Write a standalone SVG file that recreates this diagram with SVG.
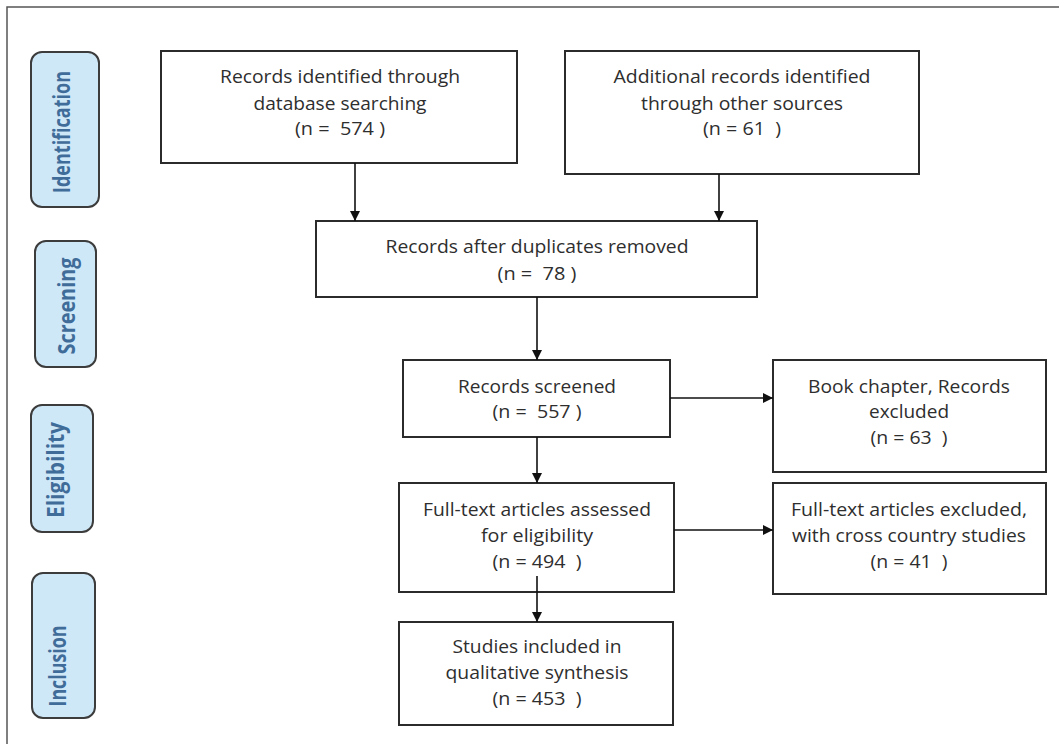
<svg xmlns="http://www.w3.org/2000/svg" width="1059" height="744" viewBox="0 0 1059 744">
  <style>
    .frame { fill: none; stroke: #555; stroke-width: 1.5; }
    .box { fill: #fff; stroke: #2b2b2b; stroke-width: 2; }
    .stage { fill: #cfe8f8; stroke: #3c3c3c; stroke-width: 2; }
    .stage-label { font-family: "Open Sans", "Liberation Sans", sans-serif; font-weight: 700; font-size: 24px; fill: #3f6c98; text-anchor: middle; }
    .label { font-family: "Open Sans", "Liberation Sans", sans-serif; font-size: 17.5px; fill: #2e2e2e; text-anchor: middle; white-space: pre; }
    .link { fill: none; stroke: #111; stroke-width: 1.6; marker-end: url(#head); }
  </style>
  <defs>
    <marker id="head" markerUnits="userSpaceOnUse" markerWidth="10" markerHeight="10" viewBox="0 0 10 10" refX="10" refY="5" orient="auto">
      <path d="M0,0 L10,5 L0,10 z" fill="#111"/>
    </marker>
  </defs>

  <rect width="1059" height="744" fill="#fff"/>
  <path class="frame" d="M7,744 V7 H1059"/>

  <!-- stage labels -->
  <g id="stage-identification">
    <rect class="stage" x="31" y="52" width="68" height="155" rx="11"/>
    <text class="stage-label" transform="translate(70,132) rotate(-90)" textLength="122" lengthAdjust="spacingAndGlyphs">Identification</text>
  </g>
  <g id="stage-screening">
    <rect class="stage" x="35" y="241" width="61" height="126" rx="11"/>
    <text class="stage-label" transform="translate(75,306) rotate(-90)" textLength="97" lengthAdjust="spacingAndGlyphs">Screening</text>
  </g>
  <g id="stage-eligibility">
    <rect class="stage" x="31" y="405" width="62" height="127" rx="11"/>
    <text class="stage-label" transform="translate(64,470) rotate(-90)" textLength="96" lengthAdjust="spacingAndGlyphs">Eligibility</text>
  </g>
  <g id="stage-inclusion">
    <rect class="stage" x="32" y="573" width="63" height="145" rx="11"/>
    <text class="stage-label" transform="translate(66,666) rotate(-90)" textLength="81" lengthAdjust="spacingAndGlyphs">Inclusion</text>
  </g>

  <!-- flow boxes -->
  <g id="db-search">
    <rect class="box" x="161" y="51" width="356" height="112"/>
    <text class="label" x="340" y="83" textLength="240" lengthAdjust="spacingAndGlyphs">Records identified through</text>
    <text class="label" x="340" y="110" textLength="173" lengthAdjust="spacingAndGlyphs">database searching</text>
    <text class="label" x="340" y="135" textLength="90" lengthAdjust="spacingAndGlyphs">(n =  574 )</text>
  </g>
  <g id="other-sources">
    <rect class="box" x="565" y="51" width="354" height="123"/>
    <text class="label" x="742" y="83" textLength="257" lengthAdjust="spacingAndGlyphs">Additional records identified</text>
    <text class="label" x="742" y="110" textLength="202" lengthAdjust="spacingAndGlyphs">through other sources</text>
    <text class="label" x="742" y="135" textLength="78" lengthAdjust="spacingAndGlyphs">(n = 61  )</text>
  </g>
  <g id="deduplicated">
    <rect class="box" x="316" y="221" width="441" height="76"/>
    <text class="label" x="537" y="253" textLength="303" lengthAdjust="spacingAndGlyphs">Records after duplicates removed</text>
    <text class="label" x="537" y="280" textLength="79" lengthAdjust="spacingAndGlyphs">(n =  78 )</text>
  </g>
  <g id="screened">
    <rect class="box" x="403" y="360" width="267" height="77"/>
    <text class="label" x="537" y="393" textLength="158" lengthAdjust="spacingAndGlyphs">Records screened</text>
    <text class="label" x="537" y="418" textLength="89" lengthAdjust="spacingAndGlyphs">(n =  557 )</text>
  </g>
  <g id="excluded-records">
    <rect class="box" x="773" y="360" width="273" height="112"/>
    <text class="label" x="909" y="393" textLength="202" lengthAdjust="spacingAndGlyphs">Book chapter, Records</text>
    <text class="label" x="909" y="418" textLength="80" lengthAdjust="spacingAndGlyphs">excluded</text>
    <text class="label" x="909" y="444" textLength="77" lengthAdjust="spacingAndGlyphs">(n = 63  )</text>
  </g>
  <g id="full-text">
    <rect class="box" x="399" y="483" width="275" height="109"/>
    <text class="label" x="537" y="516" textLength="228" lengthAdjust="spacingAndGlyphs">Full-text articles assessed</text>
    <text class="label" x="537" y="542" textLength="112" lengthAdjust="spacingAndGlyphs">for eligibility</text>
    <text class="label" x="537" y="568" textLength="89" lengthAdjust="spacingAndGlyphs">(n = 494  )</text>
  </g>
  <g id="excluded-full-text">
    <rect class="box" x="773" y="483" width="273" height="111"/>
    <text class="label" x="909" y="516" textLength="236" lengthAdjust="spacingAndGlyphs">Full-text articles excluded,</text>
    <text class="label" x="909" y="542" textLength="234" lengthAdjust="spacingAndGlyphs">with cross country studies</text>
    <text class="label" x="909" y="568" textLength="77" lengthAdjust="spacingAndGlyphs">(n = 41  )</text>
  </g>
  <g id="included">
    <rect class="box" x="399" y="622" width="274" height="103"/>
    <text class="label" x="537" y="653" textLength="169" lengthAdjust="spacingAndGlyphs">Studies included in</text>
    <text class="label" x="537" y="679" textLength="183" lengthAdjust="spacingAndGlyphs">qualitative synthesis</text>
    <text class="label" x="537" y="705" textLength="89" lengthAdjust="spacingAndGlyphs">(n = 453  )</text>
  </g>

  <!-- connectors -->
  <g id="connectors">
    <line class="link" x1="355" y1="163" x2="355" y2="221"/>
    <line class="link" x1="719" y1="174" x2="719" y2="221"/>
    <line class="link" x1="537" y1="297" x2="537" y2="360"/>
    <line class="link" x1="537" y1="437" x2="537" y2="483"/>
    <line class="link" x1="537" y1="576" x2="537" y2="622"/>
    <line class="link" x1="670" y1="398" x2="773" y2="398"/>
    <line class="link" x1="674" y1="530" x2="773" y2="530"/>
  </g>
</svg>
